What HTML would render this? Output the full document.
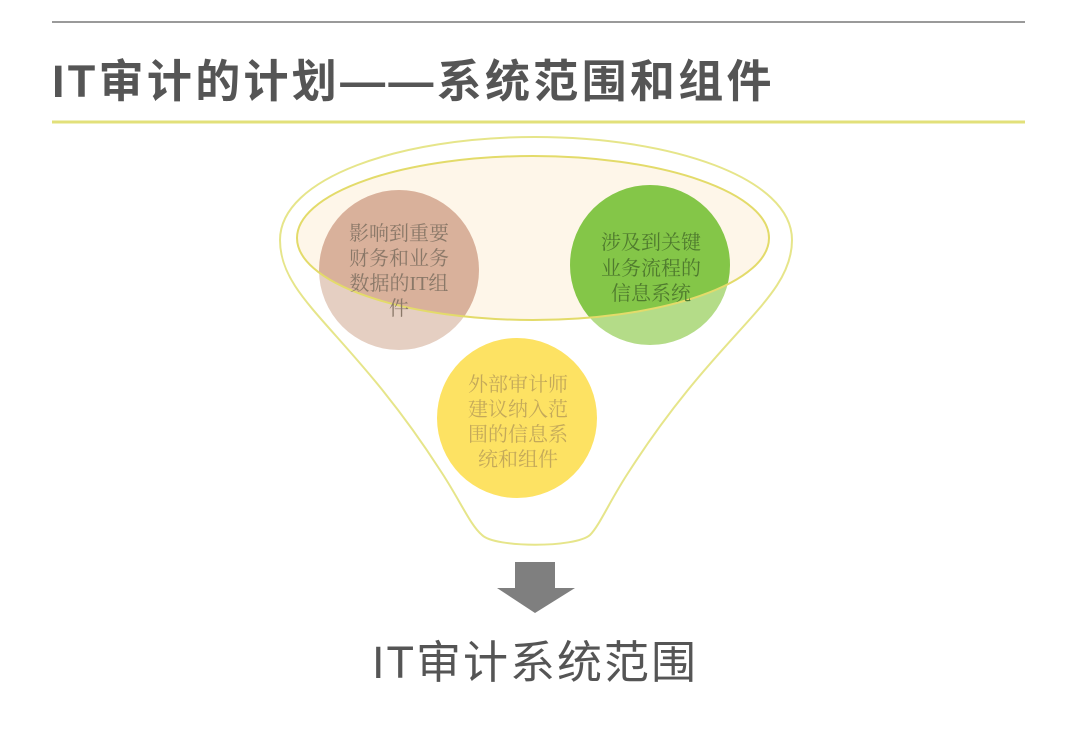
<!DOCTYPE html>
<html><head><meta charset="utf-8"><style>
html,body{margin:0;padding:0;background:#fff;}
svg{display:block;}
text{font-family:"Liberation Sans","Noto Sans CJK SC",sans-serif;}
.s{font-family:"Liberation Serif","Noto Serif CJK SC",serif;}
</style></head><body>
<svg width="1080" height="732" viewBox="0 0 1080 732" xmlns="http://www.w3.org/2000/svg">
<defs>
<clipPath id="ell"><ellipse cx="533" cy="238" rx="236" ry="82"/></clipPath>
</defs>
<line x1="52" y1="22" x2="1025" y2="22" stroke="#9a9a9a" stroke-width="2"/>
<line x1="52" y1="122" x2="1025" y2="122" stroke="#e2e07a" stroke-width="3"/>
<text x="52" y="97" font-size="45" font-weight="bold" fill="#555" letter-spacing="3.3">IT审计的计划——系统范围和组件</text>

<path d="M280,240 C280,178 400,137 535,137 C672,137 792,178 792,240 C792,300 720,330 630,470 C610,500 600,525 590,535 C575,548 495,548 482,535 C470,525 460,500 440,470 C350,330 280,300 280,240 Z" fill="none" stroke="#e6e58a" stroke-width="2"/>

<circle cx="399" cy="270" r="80" fill="#e5cfc2"/>
<circle cx="650" cy="265" r="80" fill="#b4dc88"/>
<circle cx="517" cy="418" r="80" fill="#fde263"/>
<ellipse cx="533" cy="238" rx="236" ry="82" fill="#fdf3e2" fill-opacity="0.75"/>
<g clip-path="url(#ell)">
<circle cx="399" cy="270" r="80" fill="#d9b19b"/>
<circle cx="650" cy="265" r="80" fill="#84c648"/>
</g>
<ellipse cx="533" cy="238" rx="236" ry="82" fill="none" stroke="#e3db6a" stroke-width="2"/>

<g font-size="20" text-anchor="middle" class="s">
<g fill="#8a7868">
<text class="s" x="399" y="240">影响到重要</text>
<text class="s" x="399" y="265">财务和业务</text>
<text class="s" x="399" y="290">数据的IT组</text>
<text class="s" x="399" y="315">件</text>
</g>
<g fill="#4f7a2e">
<text class="s" x="651" y="249">涉及到关键</text>
<text class="s" x="651" y="275">业务流程的</text>
<text class="s" x="651" y="300">信息系统</text>
</g>
<g fill="#c4a95a">
<text class="s" x="518" y="391">外部审计师</text>
<text class="s" x="518" y="416">建议纳入范</text>
<text class="s" x="518" y="441">围的信息系</text>
<text class="s" x="518" y="466">统和组件</text>
</g>
</g>

<polygon points="515,562 555,562 555,588 575,588 535,613 497,588 515,588" fill="#7f7f7f"/>
<text x="535" y="678" font-size="45" fill="#555" text-anchor="middle" letter-spacing="2">IT审计系统范围</text>
</svg>
</body></html>
